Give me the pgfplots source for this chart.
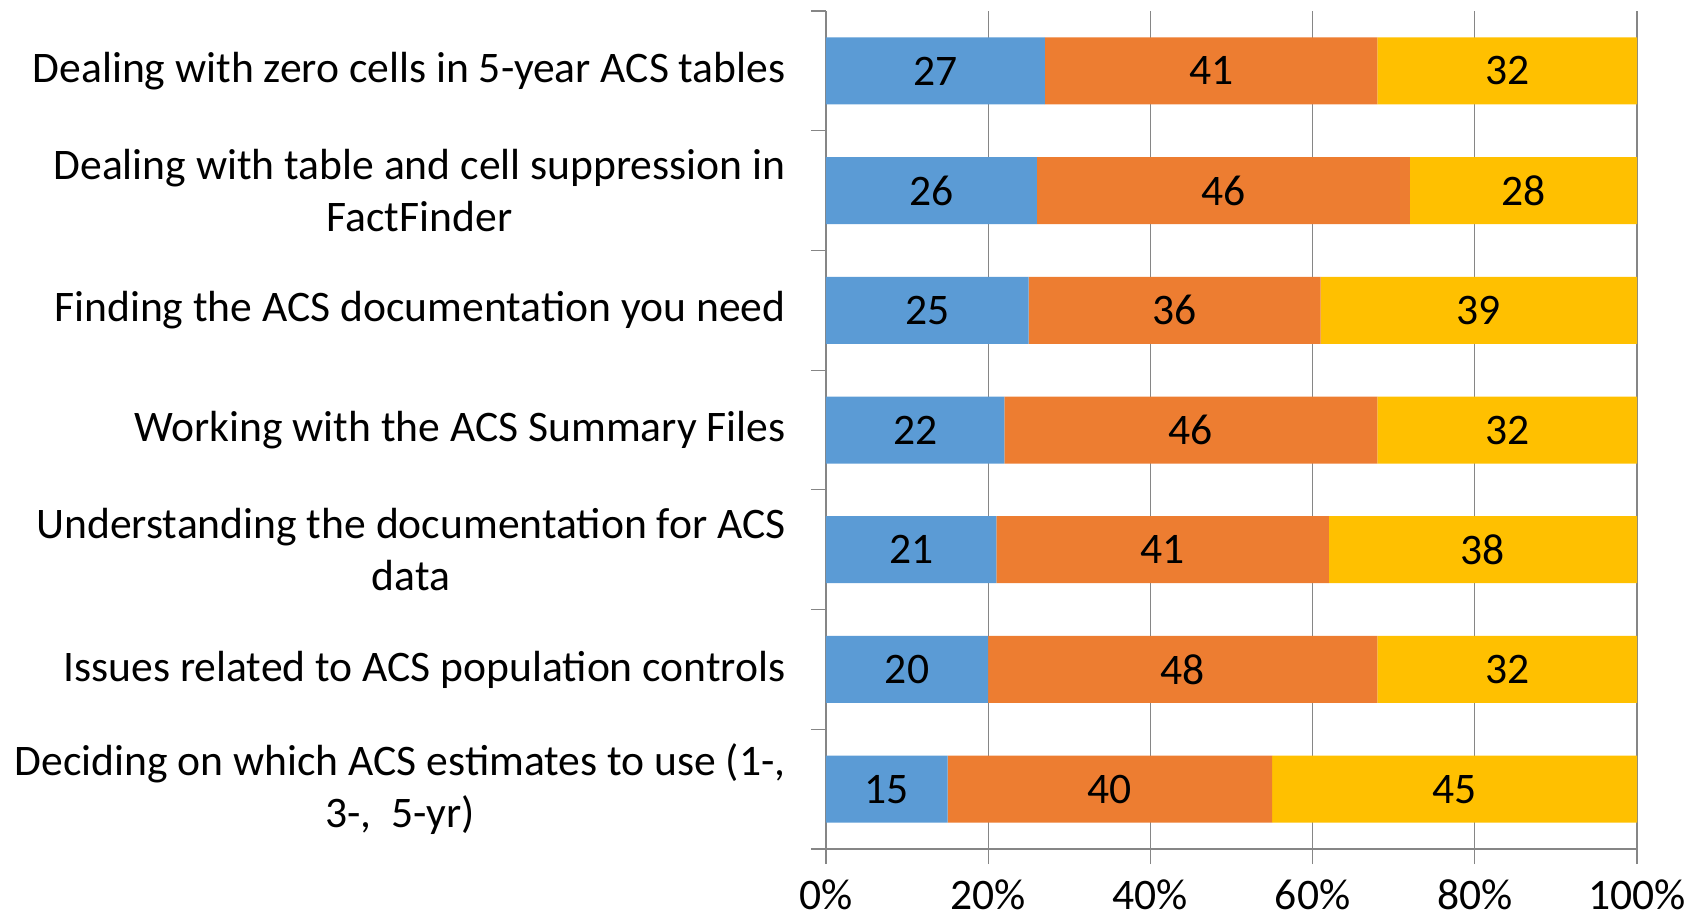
\documentclass[border=0pt]{standalone}
\usepackage{pgfplots}
\pgfplotsset{compat=1.18}
\usepackage{fontspec}
\setmainfont{Carlito}
\definecolor{cblue}{HTML}{5B9BD5}
\definecolor{corange}{HTML}{ED7D31}
\definecolor{cgold}{HTML}{FFC000}
\definecolor{axgray}{HTML}{868686}
\newcommand{\bigfont}{\fontsize{21.8}{26}\selectfont}
\begin{document}
\begin{tikzpicture}
\useasboundingbox (-413pt,-34pt) rectangle (437pt,424.5pt);
\begin{axis}[
  at={(0,0)}, anchor=south west,
  scale only axis, width=405.5pt, height=419pt,
  xbar stacked, bar width=33.5pt,
  xmin=0, xmax=100, ymin=0.5, ymax=7.5,
  axis lines*=left,
  axis line style={draw=axgray, line width=0.6pt},
  tick style={draw=axgray, line width=0.6pt},
  tick align=outside, major tick length=7.5pt,
  xtick={0,20,...,100},
  xticklabels={0\%,20\%,40\%,60\%,80\%,100\%},
  xticklabel style={font=\bigfont, inner sep=0pt, yshift=-7.5pt},
  xmajorgrids, grid style={draw=axgray, line width=0.6pt},
  ytick={0.5,1.5,...,7.5},
  yticklabels={},
  extra y ticks={1,2,3,4,5,6,7},
  extra y tick labels={
    {Deciding on which ACS estimates to use (1-,\\3-,\ \ 5-yr)},
    {Issues related to ACS population controls},
    {Understanding the documentation for ACS\\data},
    {Working with the ACS Summary Files},
    {Finding the ACS documentation you need},
    {Dealing with table and cell suppression in\\FactFinder},
    {Dealing with zero cells in 5-year ACS tables}},
  extra y tick style={major tick length=0pt,
    yticklabel style={font=\bigfont, align=center, inner sep=0pt, xshift=-20pt}},
  nodes near coords,
  every node near coord/.append style={anchor=center, font=\bigfont, text=black,
    /pgf/number format/assume math mode=true},
]
\addplot[fill=cblue, draw=none] coordinates {(27,7) (26,6) (25,5) (22,4) (21,3) (20,2) (15,1)};
\addplot[fill=corange, draw=none] coordinates {(41,7) (46,6) (36,5) (46,4) (41,3) (48,2) (40,1)};
\addplot[fill=cgold, draw=none] coordinates {(32,7) (28,6) (39,5) (32,4) (38,3) (32,2) (45,1)};
\end{axis}
\end{tikzpicture}
\end{document}
